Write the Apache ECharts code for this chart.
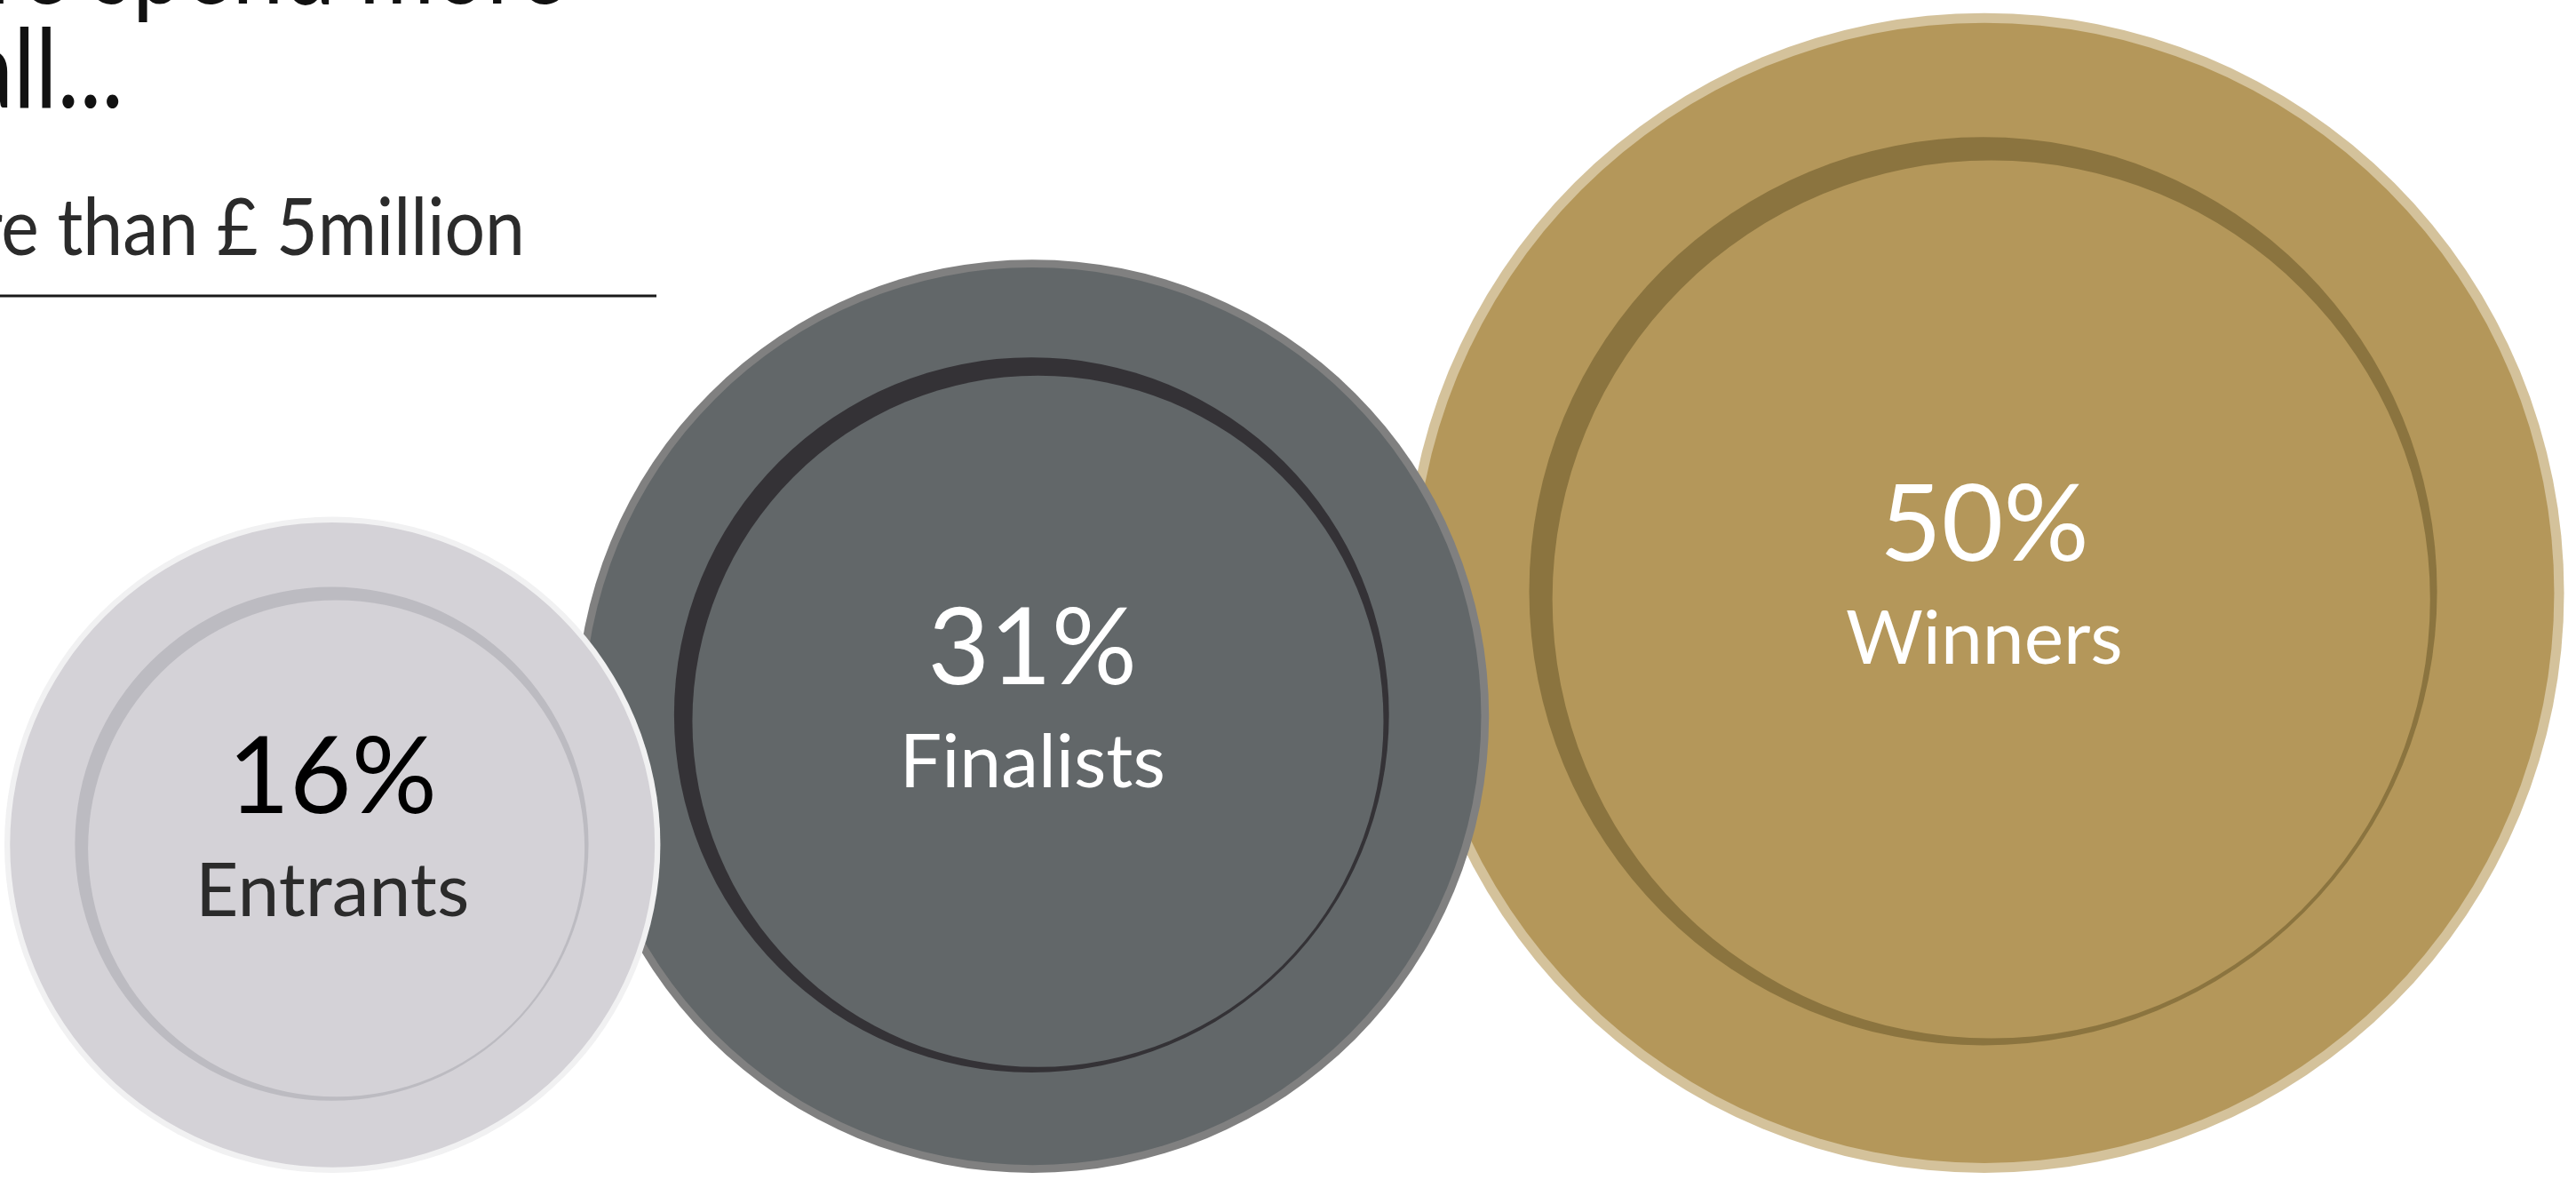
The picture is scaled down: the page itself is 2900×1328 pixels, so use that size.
<!DOCTYPE html>
<html>
<head>
<meta charset="utf-8">
<script src="https://cdn.jsdelivr.net/npm/echarts@6/dist/echarts.min.js"></script>
<style>
  html, body { margin: 0; padding: 0; background: #ffffff; }
  #chart { width: 2900px; height: 1328px; }
</style>
</head>
<body>
<div id="chart"></div>
<script>
// ---- data ----
const categories = ['Entrants', 'Finalists', 'Winners'];
const shares = [16, 31, 50];                       // % spending more than £5m
const shareLabels = ['16%', '31%', '50%'];
const headlineLines = ['re spend more', 'all...'];
const subheadline = 're than £ 5million';

// ---- styling ----
const plateFill   = ['#d4d2d7', '#626769', '#b4975a'];
const plateEdge   = ['#f1f1f2', '#808080', '#d4c29b'];
const plateRing   = ['#bcbbc1', '#343236', '#8b743f'];
const numberColor = ['#000000', '#ffffff', '#ffffff'];
const nameColor   = ['#2b2b2b', '#ffffff', '#ffffff'];

const W = 2900, H = 1328;
const AREA_K = 92.3;     // radius = AREA_K * sqrt(share): circle area follows the share
const OVERLAP = 95;      // neighbouring plates overlap a little
const LEFT = 5;
const FLOOR = 1320;      // plates rest on a common floor line

const FONT = 'Lato';
const radius = v => AREA_K * Math.sqrt(v);

// text metrics helpers (zrender draws single lines with a 'middle' baseline)
const mctx = document.createElement('canvas').getContext('2d');
function fontStr(size, weight) { return weight + ' ' + size + 'px ' + FONT; }
function textWidth(str, size, weight) {
  mctx.font = fontStr(size, weight);
  return mctx.measureText(str).width;
}
function middleToBaseline(size, weight) {
  mctx.font = fontStr(size, weight);
  mctx.textBaseline = 'middle';
  const d = mctx.measureText('x').actualBoundingBoxDescent;
  mctx.textBaseline = 'alphabetic';
  return d;
}

// pack the plates left to right, resting on the floor
const plates = [];
let cx = 0;
shares.forEach((v, i) => {
  const r = radius(v);
  cx = i === 0 ? LEFT + r : cx + radius(shares[i - 1]) + r - OVERLAP;
  plates.push([cx, FLOOR - r, v, i]);
});

const NUM_SIZE = 120, NAME_SIZE = 84;
const numShift = middleToBaseline(NUM_SIZE, 400);
const nameShift = middleToBaseline(NAME_SIZE, 400);

function renderPlate(params, api) {
  const i = api.value(3);
  const c = api.coord([api.value(0), api.value(1)]);
  const R = api.size([radius(api.value(2)), 0])[0];
  const x = c[0], y = c[1];
  const bw = 0.017 * R;
  const zb = (categories.length - i) * 10;   // smaller plates sit on top
  return {
    type: 'group',
    children: [
      { type: 'circle', z2: zb + 1, shape: { cx: x, cy: y, r: R }, style: { fill: plateEdge[i] } },
      { type: 'circle', z2: zb + 2, shape: { cx: x, cy: y, r: R - bw }, style: { fill: plateFill[i] } },
      { type: 'circle', z2: zb + 3, shape: { cx: x - 0.002 * R, cy: y - 0.003 * R, r: 0.783 * R }, style: { fill: plateRing[i] } },
      { type: 'circle', z2: zb + 4, shape: { cx: x + 0.012 * R, cy: y + 0.011 * R, r: 0.757 * R }, style: { fill: plateFill[i] } },
      { type: 'text', z2: zb + 5, style: {
          text: shareLabels[i], x: x, y: y - 36 - numShift,
          align: 'center', verticalAlign: 'middle',
          fill: numberColor[i], fontSize: NUM_SIZE, fontWeight: 400, fontFamily: FONT } },
      { type: 'text', z2: zb + 5, style: {
          text: categories[i], x: x, y: y + 80 - nameShift,
          align: 'center', verticalAlign: 'middle',
          fill: nameColor[i], fontSize: NAME_SIZE, fontWeight: 400, fontFamily: FONT } }
    ]
  };
}

// condensed headline: right-aligned, squeezed horizontally so the run after
// the first `skip` characters spans `span` pixels
function headline(str, size, rightX, baseline, span, skip, color) {
  const full = textWidth(str, size, 400);
  const lead = textWidth(str.slice(0, skip), size, 400);
  const s = span / (full - lead);
  return {
    type: 'text', x: rightX, y: baseline - middleToBaseline(size, 400), scaleX: s,
    style: { text: str, x: 0, y: 0, align: 'right', verticalAlign: 'middle',
             fill: color, fontSize: size, fontWeight: 400, fontFamily: FONT }
  };
}

const chart = echarts.init(document.getElementById('chart'), null, { renderer: 'canvas' });
chart.setOption({
  backgroundColor: '#ffffff',
  animation: false,
  grid: { left: 0, right: 0, top: 0, bottom: 0 },
  xAxis: { type: 'value', min: 0, max: W, show: false },
  yAxis: { type: 'value', min: 0, max: H, inverse: true, show: false },
  graphic: [
    headline(headlineLines[0], 125, 638, 4, 613, 1, '#111111'),
    headline(headlineLines[1], 125, 139, 121, 124, 1, '#111111'),
    headline(subheadline, 90, 591, 287, 588, 1, '#2b2b2b'),
    { type: 'line', shape: { x1: 0, y1: 333, x2: 739, y2: 333 },
      style: { stroke: '#1a1a1a', lineWidth: 3 } }
  ],
  series: [{
    type: 'custom',
    coordinateSystem: 'cartesian2d',
    renderItem: renderPlate,
    encode: { x: 0, y: 1 },
    data: plates
  }]
});
</script>
</body>
</html>
